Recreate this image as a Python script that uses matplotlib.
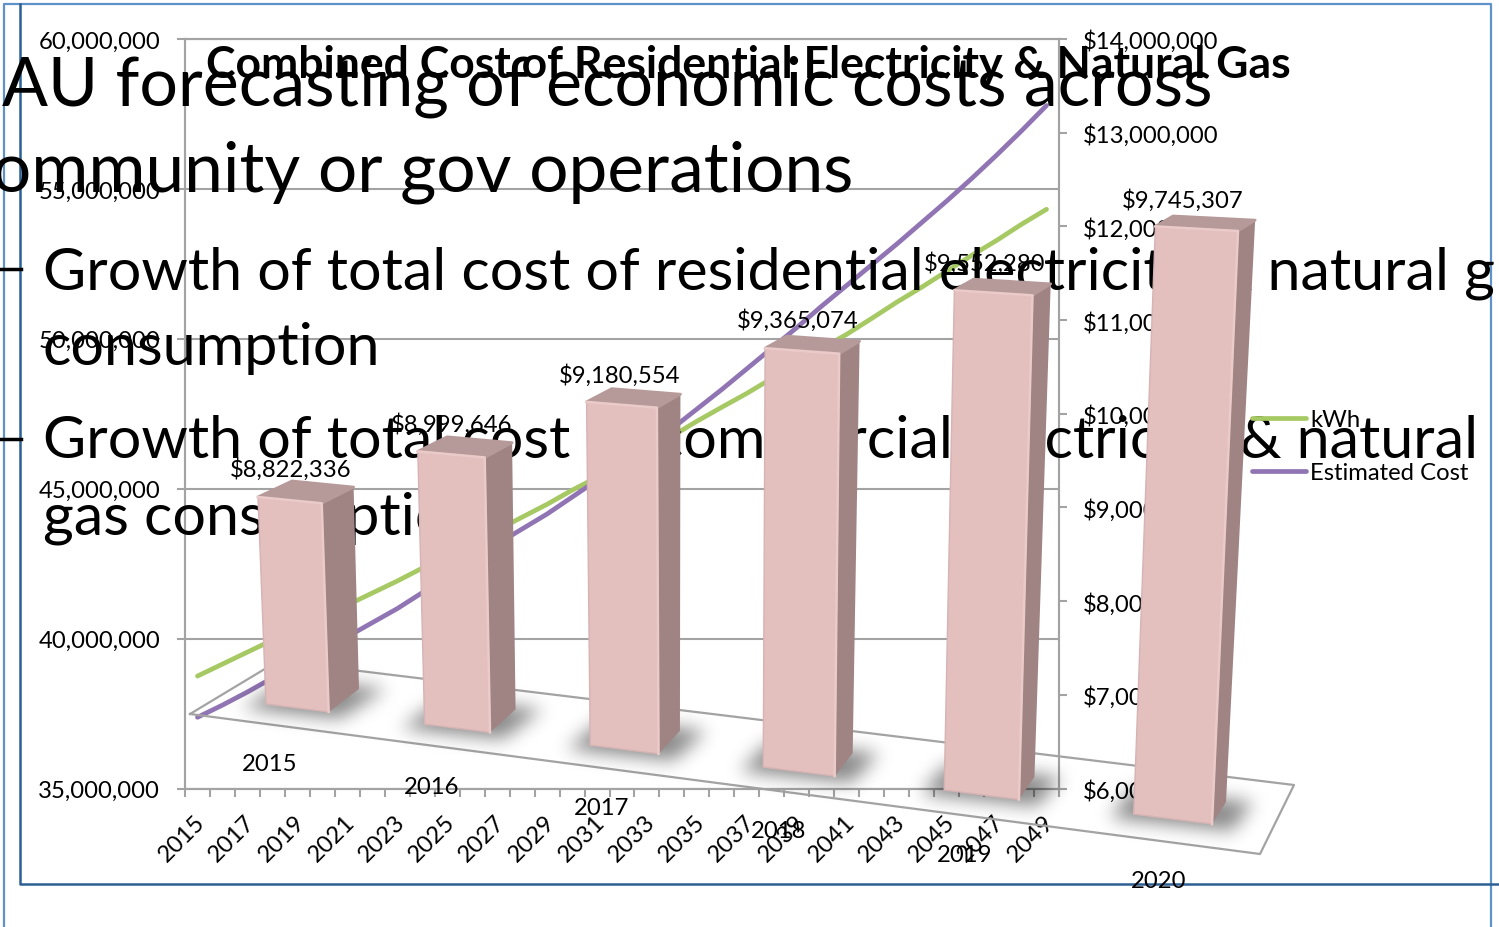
import numpy as np
import matplotlib
matplotlib.use('Agg')
import matplotlib.pyplot as plt
from matplotlib.path import Path
from matplotlib.ticker import FuncFormatter

plt.rcParams['font.family'] = ['Lato', 'DejaVu Sans']

# line chart data
years = list(range(2015, 2050))
kwh = [38.75, 39.15, 39.55, 39.95, 40.35, 40.72, 41.12, 41.52, 41.92, 42.35, 42.78, 43.18,
       43.62, 44.05, 44.48, 44.95, 45.38, 45.82, 46.28, 46.75, 47.25, 47.72, 48.18, 48.68,
       49.18, 49.68, 50.15, 50.68, 51.22, 51.72, 52.25, 52.78, 53.28, 53.82, 54.32]
est_cost = [6.76, 6.89, 7.03, 7.18, 7.34, 7.48, 7.62, 7.77, 7.92, 8.09, 8.27, 8.44,
            8.61, 8.77, 8.93, 9.11, 9.29, 9.47, 9.65, 9.84, 10.05, 10.26, 10.48, 10.70,
            10.92, 11.15, 11.37, 11.59, 11.81, 12.04, 12.27, 12.51, 12.76, 13.02, 13.29]

# 3d bar data
bar_years = ['2015', '2016', '2017', '2018', '2019', '2020']
bar_costs = [8822336, 8999646, 9180554, 9365074, 9552280, 9745307]

W, H = 1499, 928
GREEN = '#A6C963'
PURPLE = '#9074B3'
GREY = '#A3A3A3'
FS = 17.2

fig = plt.figure(figsize=(W / 100, H / 100), dpi=100, facecolor='white')

# 2d chart underneath
ax = fig.add_axes([185 / W, 1 - 789.5 / H, 874 / W, 749.5 / H], zorder=1)
ax2 = ax.twinx()
ax.set_zorder(1)
ax2.set_zorder(2)
l1, = ax.plot(range(35), np.array(kwh) * 1e6, color=GREEN, lw=3.4, solid_capstyle='round', label='kWh')
l2, = ax2.plot(range(35), np.array(est_cost) * 1e6, color=PURPLE, lw=3.4, solid_capstyle='round', label='Estimated Cost')
ax.set_xlim(-0.5, 34.5)
ax.set_ylim(35e6, 60e6)
ax2.set_ylim(6e6, 14e6)
ax.set_yticks(np.arange(35e6, 60e6 + 1, 5e6))
ax2.set_yticks(np.arange(6e6, 14e6 + 1, 1e6))
ax.yaxis.set_major_formatter(FuncFormatter(lambda v, p: f'{v:,.0f}'))
ax2.yaxis.set_major_formatter(FuncFormatter(lambda v, p: f'${v:,.0f}'))
ax.grid(axis='y', color=GREY, lw=1.5)
ax.set_axisbelow(True)
ax.set_xticks(np.arange(-0.5, 35, 1))
ax.set_xticklabels([])
ax.set_xticks(np.arange(0, 35, 2) - 0.12, minor=True)
ax.set_xticklabels([str(y) for y in years[::2]], minor=True, rotation=45, ha='right',
                   rotation_mode='anchor', fontsize=FS)
ax.tick_params(axis='x', which='major', length=6, width=1.5, color=GREY)
ax.tick_params(axis='x', which='minor', length=0, pad=16)
ax.tick_params(axis='y', length=6, width=1.5, color=GREY, labelsize=FS, pad=12)
ax2.tick_params(axis='y', length=6, width=1.5, color=GREY, labelsize=FS, pad=11.5)
for a in (ax, ax2):
    for s in ['left', 'right', 'bottom', 'top']:
        a.spines[s].set_color(GREY)
        a.spines[s].set_linewidth(1.5)

# pixel layer for the slide text and the pseudo 3d bars
ov = fig.add_axes([0, 0, 1, 1], zorder=5)
ov.set_xlim(0, W)
ov.set_ylim(H, 0)
ov.axis('off')
ov.patch.set_alpha(0)

# slide frames
ov.plot([4, 4, 1491, 1491], [H, 5, 5, H], color='#5F93C8', lw=1.6, zorder=1)
ov.plot([20, 20, W], [5, 885, 885], color='#2C5F94', lw=1.8, zorder=1)

for txt, x, y, size in [('AU forecasting of economic costs across', 2, 106, 49),
                        ('ommunity or gov operations', -8, 192, 50),
                        ('Growth of total cost of residential electricity & natural g', 43, 290, 42.7),
                        ('consumption', 43, 365, 42.7),
                        ('Growth of total cost of commercial electricity & natural', 43, 458, 42.7),
                        ('gas consumption', 43, 535, 42.7)]:
    ov.text(x, y, txt, fontsize=size, color='black', va='baseline', zorder=2)
ov.plot([0, 21], [270, 270], color='black', lw=2.5, zorder=2)
ov.plot([0, 21], [440, 440], color='black', lw=2.5, zorder=2)

ov.text(748, 78, 'Combined Cost of Residential Electricity & Natural Gas', fontsize=32,
        fontweight='bold', ha='center', va='baseline', zorder=3)

# floor of the 3d chart
ov.plot([190, 1260, 1294, 278, 190], [715, 855, 786, 662, 715], color=GREY, lw=1.6, zorder=3)


def homography(src, dst):
    A, b = [], []
    for (u, v), (x, y) in zip(src, dst):
        A.append([u, v, 1, 0, 0, 0, -u * x, -v * x])
        A.append([0, 0, 0, u, v, 1, -u * y, -v * y])
        b += [x, y]
    h = np.linalg.solve(np.array(A, float), np.array(b, float))
    return np.append(h, 1).reshape(3, 3)


def project(m, u, v):
    p = m @ np.array([u, v / 1e6, 1.0])
    return p[0] / p[2], p[1] / p[2]


def blur(a, sigma):
    t = np.arange(-3 * int(sigma), 3 * int(sigma) + 1)
    k = np.exp(-t ** 2 / (2 * sigma ** 2))
    k /= k.sum()
    a = np.apply_along_axis(lambda r: np.convolve(r, k, mode='same'), 0, a)
    return np.apply_along_axis(lambda r: np.convolve(r, k, mode='same'), 1, a)


bw = 0.4      # bar width in category units
vmin = 8.2e6  # floor of the bar scale
v0, v5 = bar_costs[0] / 1e6, bar_costs[5] / 1e6
f0 = vmin / 1e6
front = homography([(0, f0), (5 + bw, f0), (0, v0), (5 + bw, v5)],
                   [(266, 705), (1212, 825), (258, 498), (1238, 232)])
back = homography([(bw, f0), (5 + bw, f0), (0, v0), (5, v5)],
                  [(359, 690), (1226, 803), (292, 482), (1173, 217)])

# blurred shadows, one image for all the bars
gx, gy = np.meshgrid(np.arange(W) + 0.5, np.arange(H) + 0.5)
grid = np.column_stack([gx.ravel(), gy.ravel()])
mask = np.zeros((H, W))
for i in range(len(bar_costs)):
    foot = np.array([project(front, i, vmin), project(front, i + bw, vmin),
                     project(back, i + bw, vmin), project(back, i, vmin)])
    c0 = foot.mean(axis=0)
    poly = c0 + [2, 2] + (foot - c0) * [1.55, 1.3]
    mask[Path(poly).contains_points(grid).reshape(H, W)] = 1
shadow = np.zeros((H, W, 4))
shadow[..., 3] = blur(mask, 9) * 0.47
ov.imshow(shadow, extent=(0, W, H, 0), aspect='auto', zorder=4, interpolation='bilinear')
ov.set_xlim(0, W)
ov.set_ylim(H, 0)

for i, c in enumerate(bar_costs):
    fl, fr = i, i + bw
    ftl, ftr = project(front, fl, c), project(front, fr, c)
    fbl, fbr = project(front, fl, vmin), project(front, fr, vmin)
    btl, btr = project(back, fl, c), project(back, fr, c)
    bbr = project(back, fr, vmin)
    ov.fill(*zip(fbr, ftr, btr, bbr), color='#9F8483', lw=0, zorder=5)
    ov.fill(*zip(ftl, ftr, btr, btl), color='#B69A99', ec='#B69A99', lw=2, zorder=5, joinstyle='round')
    ov.fill(*zip(fbl, fbr, ftr, ftl), color='#E3BFBE', ec='#D6B4B3', lw=1, zorder=6)
    ov.plot(*zip(ftl, ftr, fbr), color='#EACBCA', lw=1.8, zorder=7)

bar_label_xy = [(291, 470), (452, 425), (620, 376), (798, 321), (985, 264), (1183, 201)]
cat_label_xy = [(270, 765), (432, 788), (602, 809), (779, 832), (965, 856), (1159, 882)]
for c, (x, y) in zip(bar_costs, bar_label_xy):
    ov.text(x, y, f'${c:,}', fontsize=FS, ha='center', va='center', zorder=8)
for t, (x, y) in zip(bar_years, cat_label_xy):
    ov.text(x, y, t, fontsize=FS, ha='center', va='center', zorder=8)

leg = ov.legend([l1, l2], ['kWh', 'Estimated Cost'], loc='upper left', bbox_to_anchor=(1252, 410),
                bbox_transform=ov.transData, frameon=False, fontsize=FS, handlelength=2.26,
                handletextpad=0.17, labelspacing=1.34, borderpad=0, borderaxespad=0)
leg.set_zorder(9)

fig.savefig('out.png', dpi=100)
